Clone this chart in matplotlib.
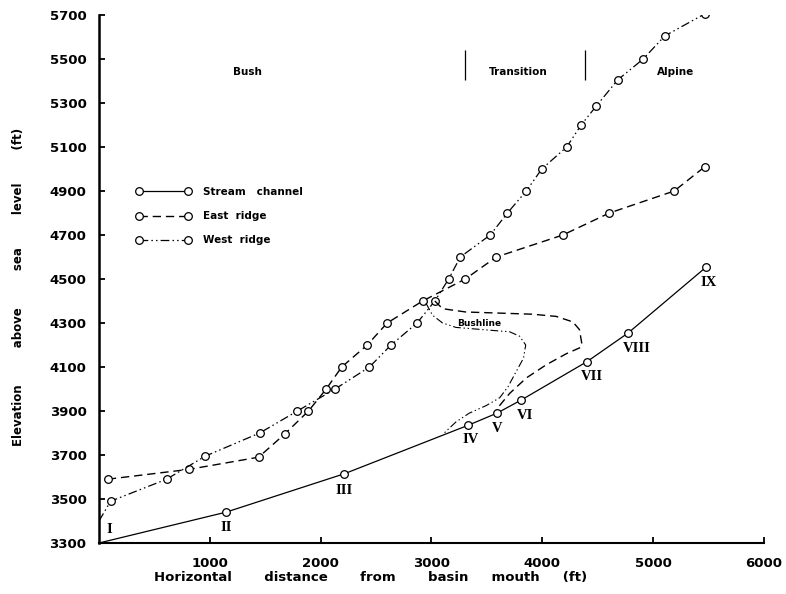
import numpy as np
import matplotlib
matplotlib.use('Agg')
import matplotlib.pyplot as plt

# stream channel profile (stations I..IX)
stream_x = [0, 1145, 2215, 3330, 3590, 3810, 4405, 4775, 5480]
stream_y = [3300, 3440, 3615, 3835, 3890, 3950, 4125, 4255, 4555]
stations = ['I', 'II', 'III', 'IV', 'V', 'VI', 'VII', 'VIII', 'IX']
station_lx = [90, 1145, 2215, 3350, 3590, 3840, 4450, 4855, 5505]
station_ly = [3360, 3370, 3540, 3770, 3820, 3880, 4055, 4185, 4485]

# east ridge (dashed)
east_x = [80, 815, 1440, 1675, 1890, 2050, 2190, 2420, 2600, 2920,
          3305, 3585, 4185, 4605, 5190, 5465]
east_y = [3590, 3635, 3690, 3795, 3900, 4000, 4100, 4200, 4300, 4400,
          4500, 4600, 4700, 4800, 4900, 5010]

# west ridge (dash-dot), first point is the tail at the axis
west_x = [0, 105, 610, 960, 1450, 1790, 2130, 2440, 2635, 2870, 3030,
          3155, 3260, 3530, 3685, 3855, 3995, 4220, 4350, 4485, 4680,
          4910, 5105, 5465]
west_y = [3400, 3490, 3590, 3695, 3800, 3900, 4000, 4100, 4200, 4300, 4400,
          4500, 4600, 4700, 4800, 4900, 5000, 5100, 5200, 5285, 5405,
          5500, 5605, 5705]

# bushline traces
bush_e_x = [3030, 3100, 3310, 3610, 3910, 4125, 4275, 4335, 4355, 4350,
            4215, 4035, 3855, 3705, 3615, 3585]
bush_e_y = [4400, 4365, 4350, 4345, 4340, 4330, 4305, 4270, 4210, 4190,
            4160, 4110, 4050, 3980, 3925, 3905]
bush_w_x = [2950, 3010, 3100, 3220, 3460, 3705, 3795, 3850, 3830, 3765,
            3690, 3615, 3495, 3340, 3220, 3115]
bush_w_y = [4390, 4335, 4300, 4280, 4270, 4260, 4240, 4200, 4140, 4080,
            4010, 3960, 3925, 3890, 3850, 3800]

# vegetation zones
zones = ['Bush', 'Transition', 'Alpine']
zone_x = [1340, 3785, 5200]
zone_bounds = [3303, 4381]

xticks = [1000, 2000, 3000, 4000, 5000, 6000]
yticks = list(range(3300, 5701, 200))

dashdot = (0, (7, 2.5, 1.2, 2.5, 1.2, 2.5))
dashed = (0, (6, 3.5))
mk = dict(marker='o', mfc='white', mec='black', ms=5.5, mew=0.9)

fig = plt.figure(figsize=(7.86, 5.94), dpi=100)
ax = fig.add_axes([99/786, 51/594, 665/786, 528/594])

ax.plot(stream_x, stream_y, '-', color='black', lw=0.9,
        markevery=list(range(1, len(stream_x))), label='Stream   channel', **mk)
ax.plot(east_x, east_y, linestyle=dashed, color='black', lw=1.0,
        label='East  ridge', **mk)
ax.plot(west_x, west_y, linestyle=dashdot, color='black', lw=0.9,
        markevery=list(range(1, len(west_x))), label='West  ridge', **mk)
ax.plot(bush_e_x, bush_e_y, linestyle=dashed, color='black', lw=1.0)
ax.plot(bush_w_x, bush_w_y, linestyle=dashdot, color='black', lw=0.8)
ax.text(3430, 4300, 'Bushline', fontsize=6.5, fontweight='bold',
        ha='center', va='center')

for s, x, y in zip(stations, station_lx, station_ly):
    ax.text(x, y, s, family='Liberation Serif', fontweight='bold',
            fontsize=10.5, ha='center', va='center')

for z, x in zip(zones, zone_x):
    ax.text(x, 5440, z, fontsize=7.5, fontweight='bold', ha='center', va='center')
ax.vlines(zone_bounds, 5405, 5541, color='black', lw=0.9)

leg = ax.legend(loc='upper left', bbox_to_anchor=(0.056, 0.674), frameon=False,
                numpoints=2, handlelength=5.3, handletextpad=1.1,
                labelspacing=1.35, borderpad=0, borderaxespad=0,
                prop=dict(size=7.5, weight='bold'))

ax.set_xlim(0, 6000)
ax.set_ylim(3300, 5700)
ax.set_xticks(xticks)
ax.set_yticks(yticks)
ax.tick_params(direction='in', length=4, width=1.3, labelsize=9.5,
               top=False, right=False)
ax.tick_params(axis='x', pad=10)
ax.tick_params(axis='y', pad=9)
for lab in ax.get_xticklabels() + ax.get_yticklabels():
    lab.set_fontweight('bold')
for side in ['top', 'right']:
    ax.spines[side].set_visible(False)
ax.spines['left'].set_linewidth(1.8)
ax.spines['bottom'].set_linewidth(1.5)

ax.set_xlabel('Horizontal       distance       from       basin     mouth     (ft)',
              fontsize=9.5, fontweight='bold')
ax.xaxis.set_label_coords(0.408, -0.053)
ax.set_ylabel('Elevation         above         sea        level        (ft)',
              fontsize=8.5, fontweight='bold')
ax.yaxis.set_label_coords(-0.112, 0.485)

fig.savefig('out.png', dpi=100)
